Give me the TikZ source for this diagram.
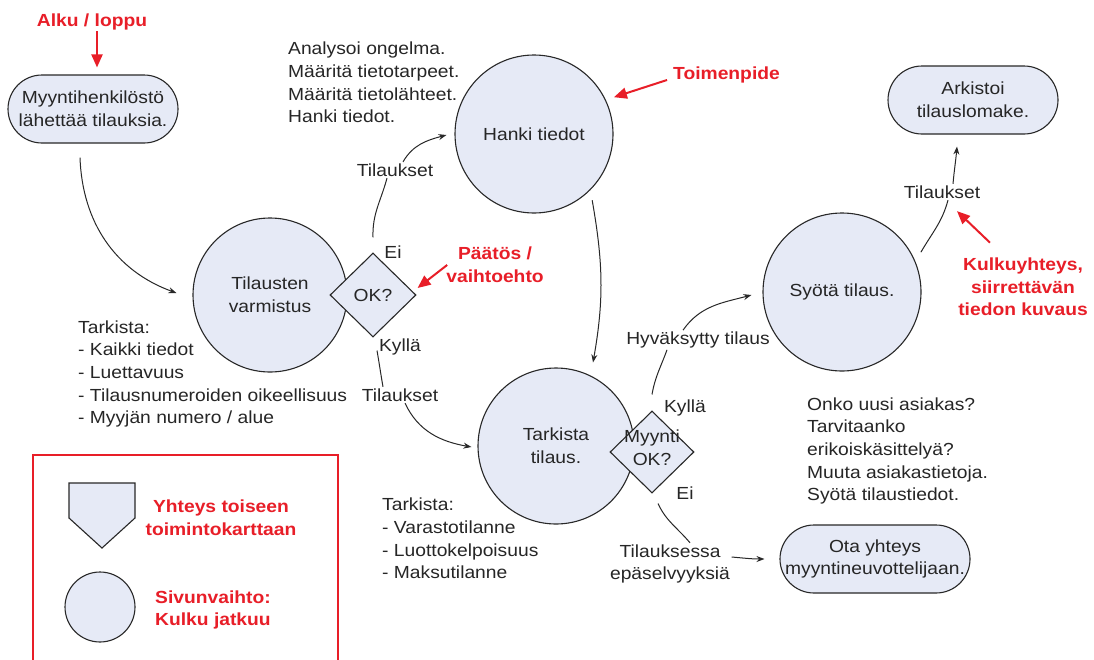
\documentclass[tikz,border=0pt]{standalone}
\usepackage{fontspec}
\setmainfont{Liberation Sans}[FakeStretch=1.1]
\usetikzlibrary{shapes.geometric,arrows.meta,calc}
\definecolor{shapefill}{RGB}{230,234,246}
\definecolor{edge}{RGB}{40,40,40}
\definecolor{annot}{RGB}{232,30,40}
\begin{document}
\begin{tikzpicture}[x=1pt,y=1pt,
 every node/.style={font=\fontsize{17.5}{22.7}\selectfont, text=black!85},
 proc/.style={circle, draw=edge, fill=shapefill, line width=1.1pt, inner sep=0pt, align=center},
 term/.style={rectangle, rounded corners=34pt, draw=edge, fill=shapefill, line width=1.1pt, minimum width=170pt, minimum height=68pt, inner sep=0pt, align=center},
 dec/.style={diamond, draw=edge, fill=shapefill, line width=1.1pt, inner sep=0pt, minimum width=86pt, minimum height=84pt, align=center},
 lbl/.style={fill=white, inner sep=1.5pt, align=center},
 note/.style={align=left, inner sep=0pt, anchor=west},
 conn/.style={line width=1pt, draw=edge, -{Stealth[length=8pt,width=6pt]}},
 plain/.style={line width=1pt, draw=edge},
 rtext/.style={text=annot, font=\fontsize{17.5}{22.7}\selectfont\bfseries, align=center, inner sep=1pt},
 rarrow/.style={draw=annot, line width=2pt, -{Triangle[length=13pt,width=11pt]}},
]
\useasboundingbox[fill=white] (0,0) rectangle (1094,-659);

% main shapes
\node[term] (start) at (93,-109) {Myyntihenkilöstö\\lähettää tilauksia.};
\node[term] (ark) at (973,-100) {Arkistoi\\tilauslomake.};
\node[term, minimum width=190pt] (ota) at (875,-559) {Ota yhteys\\myyntineuvottelijaan.};
\node[proc, minimum size=154pt] (tv) at (270,-295) {Tilausten\\varmistus};
\node[proc, minimum size=158pt] (hanki) at (534,-134) {Hanki tiedot};
\node[proc, minimum size=156pt] (tark) at (556,-446) {Tarkista\\tilaus.};
\node[proc, minimum size=158pt] (syota) at (842,-292) {Syötä tilaus.};
\node[dec] (ok) at (373,-295) {OK?};
\node[dec, minimum width=84pt, minimum height=82pt, label={[align=center, inner sep=0pt, yshift=4pt]center:Myynti\\OK?}] (myok) at (652,-452) {};

% notes
\node[note] (n1) at (288,-82.5) {Analysoi ongelma.\\Määritä tietotarpeet.\\Määritä tietolähteet.\\Hanki tiedot.};
\node[note] (n2) at (78,-374) {Tarkista:\\- Kaikki tiedot\\- Luettavuus\\- Tilausnumeroiden oikeellisuus\\- Myyjän numero / alue};
\node[note] (n3) at (382,-538.5) {Tarkista:\\- Varastotilanne\\- Luottokelpoisuus\\- Maksutilanne};
\node[note] (n4) at (807,-451) {Onko uusi asiakas?\\Tarvitaanko\\erikoiskäsittelyä?\\Muuta asiakastietoja.\\Syötä tilaustiedot.};

% connector labels
\node[lbl] (la) at (395,-170) {Tilaukset};
\node[lbl] (lb) at (400,-395) {Tilaukset};
\node[lbl] (lc) at (698,-340) {Hyväksytty tilaus};
\node[lbl] (ld) at (670,-564) {Tilauksessa\\epäselvyyksiä};
\node[lbl] (le) at (942,-192) {Tilaukset};
\node (ei1) at (393,-252) {Ei};
\node (ky1) at (400,-347) {Kyllä};
\node (ky2) at (685,-408) {Kyllä};
\node (ei2) at (685,-493) {Ei};

% connectors
\draw[conn] ([xshift=-13pt,yshift=-14pt]start.south) to[out=-88,in=160] ([xshift=-16pt,yshift=2pt]tv.west);
\draw[plain] ([yshift=15pt]ok.north) to[out=92,in=-105] ([xshift=-8pt]la.south);
\draw[conn] ([xshift=8pt]la.north) to[out=60,in=195] ([xshift=-8pt,yshift=-1pt]hanki.west);
\draw[plain] ([xshift=4pt,yshift=-13pt]ok.south) to[out=-80,in=100] ([xshift=-17pt]lb.north);
\draw[conn] ([xshift=5pt]lb.south) to[out=-65,in=170] ([xshift=-6pt,yshift=-1pt]tark.west);
\draw[conn] ([yshift=-12pt]hanki.-43) to[out=-80,in=80] ([xshift=37pt,yshift=5pt]tark.north);
\draw[plain] ([yshift=16pt]myok.north) to[out=80,in=-110] ([xshift=-31pt]lc.south);
\draw[conn] ([xshift=-15pt]lc.north) to[out=55,in=195] ([xshift=-11pt,yshift=-3pt]syota.west);
\draw[plain] ([xshift=6pt,yshift=-10pt]myok.south) to[out=-65,in=130] ([xshift=20pt]ld.north);
\draw[conn] ([yshift=7pt]ld.east) to[out=-5,in=180] ([xshift=-15pt]ota.west);
\draw[plain] ([xshift=10pt]syota.30) to[out=60,in=-105] ([xshift=6pt]le.south);
\draw[conn] ([xshift=11pt]le.north) to[out=85,in=-95] ([xshift=-16pt,yshift=-12pt]ark.south);

% red annotations
\node[rtext] (alku) at (92,-22) {Alku / loppu};
\draw[rarrow] ([xshift=5pt]alku.south) -- ([xshift=4pt,yshift=7pt]start.north);
\node[rtext, anchor=west] (toim) at (672,-75) {Toimenpide};
\draw[rarrow] ([xshift=-5pt,yshift=-5pt]toim.west) -- ([xshift=11pt,yshift=-3pt]hanki.30);
\node[rtext] (paatos) at (495,-265) {Päätös /\\vaihtoehto};
\draw[rarrow] ([xshift=2pt]paatos.west) -- ([xshift=1pt,yshift=7pt]ok.east);
\node[rtext] (kulku) at (1023,-287) {Kulkuyhteys,\\siirrettävän\\tiedon kuvaus};
\draw[rarrow] ([xshift=-33pt,yshift=14pt]kulku.north) -- ([xshift=15pt,yshift=-11pt]le.south);

% legend
\draw[draw=annot, line width=1.8pt] (33,-455) rectangle (338,-666);
\draw[line width=1.1pt, draw=edge, fill=shapefill] (69,-483) -- (135,-483) -- (135,-518) -- (102,-548) -- (69,-518) -- cycle;
\node[proc, minimum size=70pt] (legc) at (100,-607) {};
\node[rtext] (leg1) at (221,-518) {Yhteys toiseen\\toimintokarttaan};
\node[rtext, anchor=west, align=left] (leg2) at (154,-610) {Sivunvaihto:\\Kulku jatkuu};
\end{tikzpicture}
\end{document}
